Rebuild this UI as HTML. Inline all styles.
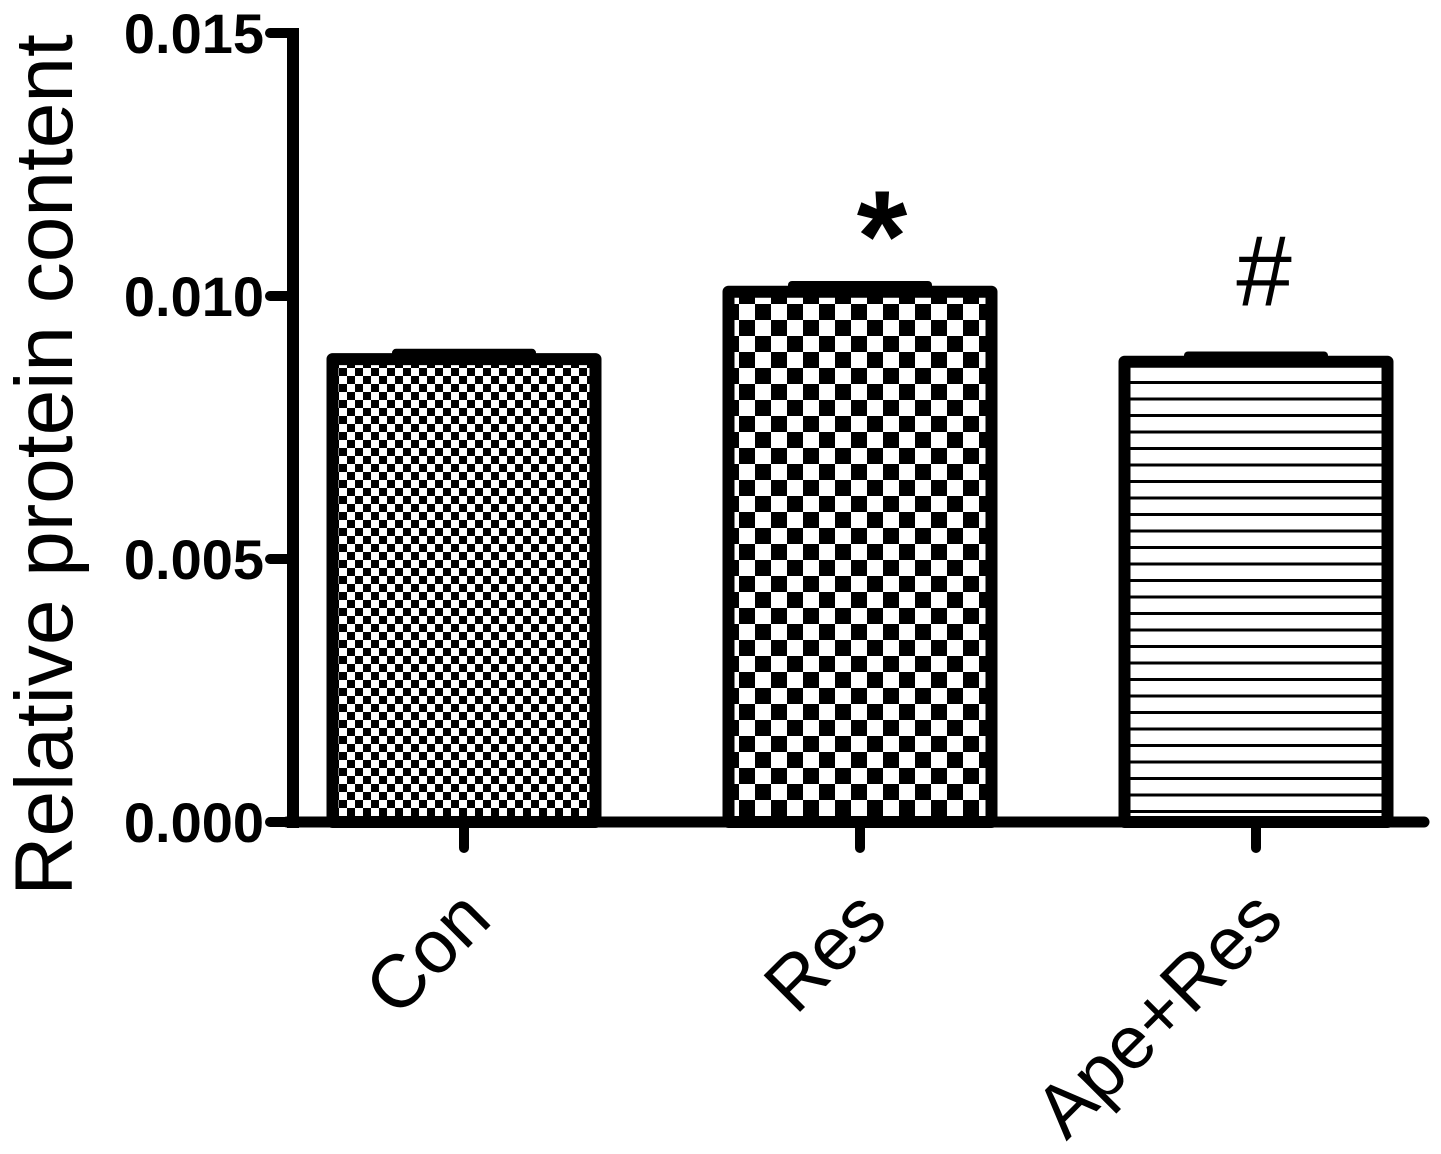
<!DOCTYPE html>
<html><head><meta charset="utf-8"><style>
html,body{margin:0;padding:0;background:#fff;}
svg{display:block;}
text{font-family:"Liberation Sans",Arial,sans-serif;fill:#000;}
</style></head><body>
<svg id="chart" width="1441" height="1154" viewBox="0 0 1441 1154" xmlns="http://www.w3.org/2000/svg">
<defs>
<pattern id="pCon" patternUnits="userSpaceOnUse" x="339" y="0" width="16" height="16"><rect width="16" height="16" fill="#fff"/><rect width="8" height="8" fill="#000"/><rect x="8" y="8" width="8" height="8" fill="#000"/></pattern>
<pattern id="pRes" patternUnits="userSpaceOnUse" x="739" y="0" width="32" height="32"><rect width="32" height="32" fill="#fff"/><rect width="16" height="16" fill="#000"/><rect x="16" y="16" width="16" height="16" fill="#000"/></pattern>
<pattern id="pApe" patternUnits="userSpaceOnUse" x="0" y="368" width="16.5" height="16.5"><rect width="16.5" height="16.5" fill="#fff"/><rect y="13" width="16.5" height="3" fill="#000"/></pattern>
</defs>
<g id="plot"></g>
</svg>
<script>
const categories = ["Con", "Res", "Ape+Res"];
const values = [0.00880, 0.01008, 0.00875];
const errors = [0.00012, 0.00013, 0.00012];
const yTicks = [0, 0.005, 0.010, 0.015];
const yTickLabels = ["0.000", "0.005", "0.010", "0.015"];
const annotations = ["", "*", "#"];
const patterns = ["url(#pCon)", "url(#pRes)", "url(#pApe)"];

const NS = "http://www.w3.org/2000/svg";
const g = document.getElementById("plot");
const y0 = 822, pxPerUnit = 263 / 0.005;
const yScale = v => y0 - v * pxPerUnit;
const axisX = 293, xStart = 270, step = 396, firstCenter = 464, barW = 275;
const xScale = i => firstCenter + i * step;
function el(tag, attrs, parent) {
  const e = document.createElementNS(NS, tag);
  for (const k in attrs) e.setAttribute(k, attrs[k]);
  (parent || g).appendChild(e);
  return e;
}
categories.forEach((c, i) => {
  const cx = xScale(i), top = yScale(values[i]);
  const eTop = yScale(values[i] + errors[i]);
  const eb = el("rect", {x: cx - 72, y: eTop - 4, width: 144, height: top - eTop + 8, rx: 4, fill: "#000"});
  
  
  const r = el("rect", {x: cx - barW / 2 + 6, y: top, width: barW - 12, height: y0 - top, fill: patterns[i], stroke: "#000", "stroke-width": 12, "stroke-linejoin": "round"});
  
  
  if (annotations[i]) {
    const isStar = annotations[i] === "*";
    const t = el("text", {x: isStar ? cx + 22 : cx + 8, y: isStar ? eTop - 4 : eTop - 50, "text-anchor": "middle", "font-size": isStar ? 130 : 100, "font-weight": isStar ? "bold" : "normal"});
    t.textContent = annotations[i];
    
    
  }
  const tk = el("line", {x1: cx, y1: y0, x2: cx, y2: 848, stroke: "#000", "stroke-width": 10, "stroke-linecap": "round"});
  
  
  const lx = cx + 30, ly = 922;
  const lab = el("text", {x: lx, y: ly, "text-anchor": "end", "font-size": 75, transform: `rotate(-45 ${lx} ${ly})`});
  lab.textContent = c;
  
  
});
const ya = el("line", {x1: axisX, y1: yScale(0.015) - 5, x2: axisX, y2: y0 + 6, stroke: "#000", "stroke-width": 12});


const xa = el("line", {x1: axisX - 6, y1: y0, x2: 1424, y2: y0, stroke: "#000", "stroke-width": 11, "stroke-linecap": "round"});


yTicks.forEach((v, i) => {
  const y = yScale(v);
  const t = el("line", {x1: xStart, y1: y, x2: axisX, y2: y, stroke: "#000", "stroke-width": 10, "stroke-linecap": "round"});
  
  
  const l = el("text", {x: 264, y: y + 20, "text-anchor": "end", "font-size": 56, "font-weight": "bold"});
  l.textContent = yTickLabels[i];
  
  
});
const title = el("text", {x: 0, y: 0, "text-anchor": "middle", "font-size": 82, transform: "translate(72 465) rotate(-90)"});
title.textContent = "Relative protein content";


</script>
</body></html>
